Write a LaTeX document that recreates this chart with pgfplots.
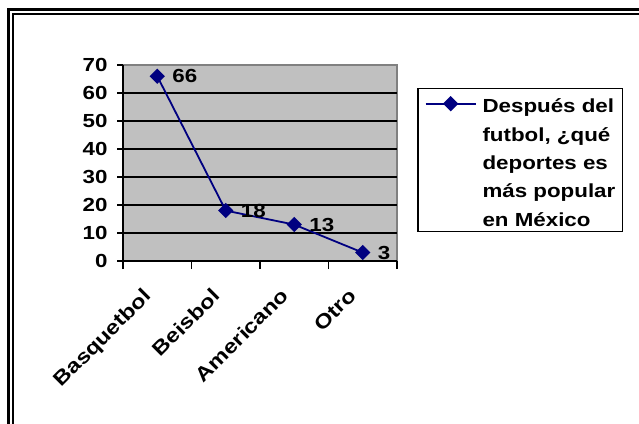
\documentclass[border=0pt]{standalone}
\usepackage{fontspec}
\setmainfont{Liberation Sans}[FakeStretch=1.18]
\usepackage{pgfplots}
\pgfplotsset{compat=1.18}
\definecolor{navy}{RGB}{0,0,128}
\definecolor{plotgray}{RGB}{192,192,192}
\definecolor{edgegray}{RGB}{128,128,128}
\newcommand{\chartfont}{\fontsize{19}{27.5}\selectfont\bfseries}
\newcommand{\legendfont}{\fontsize{19}{28.5}\selectfont\bfseries}
\begin{document}
\begin{tikzpicture}[x=1bp,y=1bp]
\path[use as bounding box] (0,0) rectangle (639,423);
\fill[white] (0,0) rectangle (639,423);
% double frame, open at right and bottom
\draw[line width=3bp] (8.5,-5) -- (8.5,413) -- (645,413);
\draw[line width=2bp] (13,-5) -- (13,409) -- (645,409);
\begin{axis}[
  at={(123bp,162bp)}, anchor=south west,
  scale only axis, width=274bp, height=196bp,
  xmin=-0.5, xmax=3.5, ymin=0, ymax=70,
  clip=false,
  axis background/.style={fill=plotgray, draw=edgegray, line width=1.5bp},
  axis x line*=bottom, axis y line*=left,
  axis line style={-, black, line width=1.5bp},
  tick align=outside,
  xtick={0,1,2,3},
  xticklabels={Basquetbol,Beisbol,Americano,Otro},
  minor xtick={-0.5,0.5,1.5,2.5,3.5},
  major x tick style={draw=none},
  minor tick length=8bp,
  major tick length=6bp,
  tick style={black, line width=1.5bp},
  ytick={0,10,...,70},
  extra y ticks={10,20,30,40,50,60},
  extra y tick labels={},
  extra y tick style={grid=major, major grid style={black, line width=1.5bp}},
  /pgf/number format/assume math mode=true,
  tick label style={font=\chartfont},
  yticklabel style={xshift=-6bp},
  xticklabel style={xshift=-15bp, yshift=-17bp, rotate=45, anchor=north east,
    inner sep=2bp, font=\fontsize{20}{24}\selectfont\bfseries},
  legend style={at={(1.073,0.8827)}, anchor=north west, draw=black,
    line width=1.5bp, font=\legendfont, inner xsep=7bp, inner ysep=4bp,
    nodes={inner sep=0pt}, column sep=6bp},
  legend cell align=left,
  legend image code/.code={\draw[mark repeat=2,mark phase=2,#1]
    plot coordinates {(0bp,56.5bp) (25bp,56.5bp) (50bp,56.5bp)};},
]
\addplot[navy, line width=1.8bp, mark=square*, mark size=4.5bp,
  mark options={rotate=45, solid},
  point meta=explicit symbolic, nodes near coords,
  every node near coord/.append style={anchor=west, xshift=11bp, black, font=\chartfont}]
  coordinates {(0,66)[66] (1,18)[18] (2,13)[13] (3,3)[3]};
\addlegendentry{\begin{tabular}[b]{@{}l@{}}Después del\\futbol, ¿qué\\deportes es\\más popular\\en México\end{tabular}}
\end{axis}
\end{tikzpicture}
\end{document}
